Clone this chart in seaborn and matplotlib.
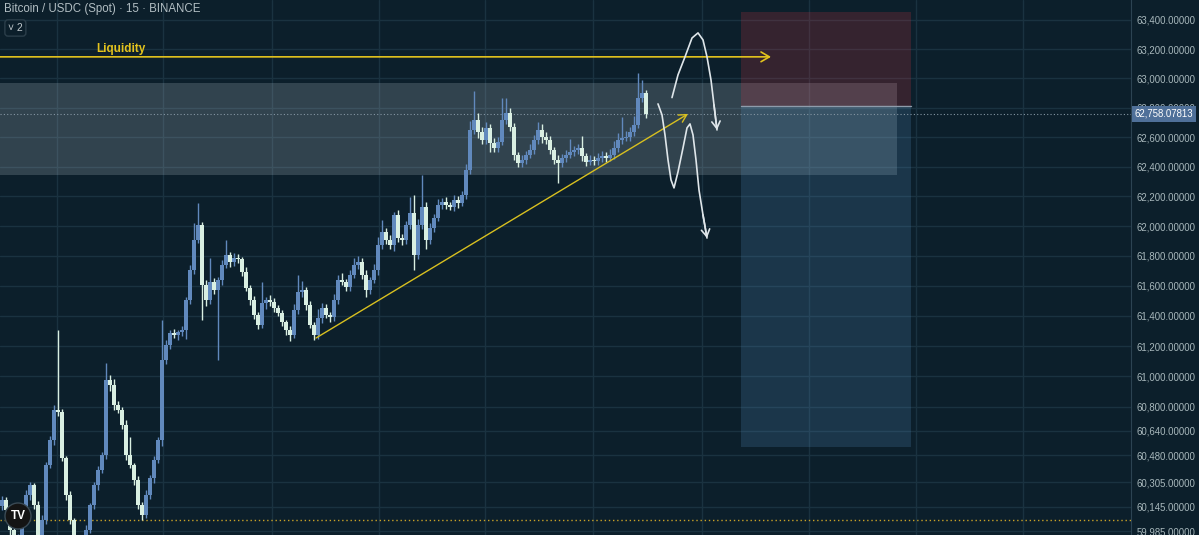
import numpy as np
import matplotlib
matplotlib.use('Agg')
import matplotlib.pyplot as plt
import matplotlib.transforms as mtransforms
from matplotlib.patches import Rectangle, Ellipse
from matplotlib.ticker import FixedLocator, NullLocator
import seaborn as sns

### chart text
title = 'Bitcoin / USDC (Spot) · 15 · BINANCE'
last_price = 62758.07813
last_label = '62,758.07813'
price_ticks = [63400, 63200, 63000, 62800, 62600, 62400, 62200, 62000, 61800, 61600,
               61400, 61200, 61000, 60800, 60640, 60480, 60305, 60145, 59985]
tick_labels = [f'{t:,.5f}' for t in price_ticks]
time_grid = [13.75, 40.25, 67.5, 94.25, 120.75, 147.75, 175, 201.75, 228.5, 255.25]

### 15m candles
closes = [
    60188, 60123, 59993, 59895, 59928, 60058, 60220, 60286, 60155, 59960,
    60058, 60417, 60580, 60778, 60764, 60462, 60220, 60058, 59895, 59876,
    59895, 59993, 60155, 60286, 60384, 60482, 60975, 60942, 60810, 60778,
    60679, 60482, 60417, 60318, 60155, 60090, 60220, 60331, 60449, 60580,
    61108, 61207, 61287, 61273, 61293, 61306, 61506, 61706, 61907, 62008,
    61606, 61506, 61626, 61573, 61639, 61740, 61807, 61760, 61787, 61780,
    61693, 61586, 61506, 61406, 61340, 61486, 61506, 61493, 61453, 61420,
    61360, 61306, 61273, 61439, 61559, 61573, 61473, 61340, 61273, 61386,
    61453, 61406, 61393, 61506, 61639, 61626, 61593, 61673, 61740, 61760,
    61673, 61573, 61639, 61706, 61874, 61961, 61907, 61874, 62075, 61920,
    61907, 62008, 62088, 61807, 62008, 62129, 61907, 61988, 62055, 62142,
    62163, 62142, 62129, 62176, 62155, 62209, 62378, 62649, 62717, 62636,
    62581, 62663, 62561, 62527, 62568, 62717, 62765, 62669, 62480, 62426,
    62446, 62480, 62514, 62581, 62649, 62602, 62581, 62514, 62446, 62426,
    62459, 62480, 62500, 62514, 62527, 62473, 62432, 62446, 62440, 62459,
    62473, 62459, 62480, 62527, 62581, 62595, 62602, 62636, 62683, 62867,
    62901, 62758.07813]
opens = [60150] + closes[:-1]
wick_up = [
    25, 18, 30, 12, 40, 22, 35, 20, 15, 28,
    30, 20, 25, 33, 528, 20, 15, 25, 10, 18,
    22, 30, 15, 20, 25, 18, 113, 30, 40, 25,
    20, 35, 118, 15, 25, 20, 30, 18, 25, 22,
    265, 30, 20, 25, 15, 30, 20, 35, 114, 147,
    20, 30, 160, 25, 18, 30, 100, 20, 35, 25,
    15, 30, 20, 25, 18, 140, 22, 30, 25, 18,
    20, 15, 25, 40, 114, 60, 20, 25, 18, 60,
    30, 25, 20, 40, 35, 50, 20, 30, 45, 40,
    25, 35, 20, 40, 50, 80, 25, 30, 20, 35,
    30, 25, 108, 121, 40, 215, 30, 35, 25, 40,
    25, 30, 20, 35, 25, 30, 40, 60, 195, 45,
    30, 40, 25, 35, 30, 150, 100, 30, 25, 20,
    30, 25, 40, 35, 51, 40, 30, 25, 20, 30,
    25, 30, 90, 25, 30, 83, 20, 30, 25, 35,
    30, 25, 40, 45, 50, 143, 40, 35, 60, 170,
    88, 20]
wick_dn = [
    30, 25, 40, 60, 35, 20, 28, 30, 25, 50,
    40, 25, 20, 30, 25, 20, 30, 25, 60, 50,
    40, 30, 20, 25, 30, 20, 25, 40, 30, 20,
    25, 30, 20, 30, 25, 32, 20, 25, 30, 20,
    40, 30, 25, 20, 30, 25, 60, 30, 25, 20,
    233, 40, 30, 25, 465, 30, 20, 35, 25, 30,
    30, 20, 35, 25, 30, 20, 40, 25, 30, 20,
    25, 30, 40, 20, 25, 30, 35, 20, 33, 25,
    30, 20, 35, 25, 30, 20, 25, 30, 20, 30,
    25, 47, 30, 20, 35, 25, 30, 25, 40, 30,
    35, 25, 30, 101, 30, 25, 60, 30, 25, 20,
    25, 30, 20, 25, 30, 20, 25, 30, 25, 40,
    30, 25, 60, 30, 25, 20, 30, 25, 35, 30,
    25, 30, 20, 25, 30, 40, 25, 30, 25, 136,
    30, 25, 20, 30, 25, 35, 30, 20, 25, 30,
    25, 30, 20, 25, 30, 25, 20, 30, 25, 20,
    30, 25]

### drawings
liquidity_price = 63147
liquidity_label_price = 63201
liquidity_x = [-0.5, 192.25]
trend_x = [78.5, 171.5]
trend_y = [61253, 62758]
dotted_low = 60058
zone_low, zone_high = 62344, 62969
zone_x = [-0.5, 223.75]
pos_x = [184.75, 227.25]
stop_price, entry_price, target_price = 63455, 62810, 60535
path_a_x = [167.5, 169, 170.75, 172.5, 174, 175.25, 176.25, 177.25, 178, 178.75]
path_a_y = [62869, 63024, 63147, 63276, 63311, 63263, 63147, 62989, 62819, 62649]
path_b_x = [164, 165, 165.75, 166.5, 167.25, 168, 169, 170.25, 171.25, 172, 172.75,
            173.5, 174.25, 175.25, 176.25]
path_b_y = [62826, 62751, 62615, 62446, 62311, 62257, 62365, 62527, 62663, 62690, 62615,
            62446, 62243, 62075, 61920]

bg = '#0c1f2b'
grid_c = '#1a3240'
up_c = '#6189bd'
dn_c = '#d9efe2'
yellow = '#e3c31d'

sns.set_style('dark', {'axes.facecolor': bg, 'figure.facecolor': bg,
                       'grid.color': grid_c, 'axes.edgecolor': '#2c4352'})
plt.rcParams['font.family'] = ['Liberation Sans', 'DejaVu Sans']

fig = plt.figure(figsize=(11.99, 5.35), dpi=100)
ax = fig.add_axes([0, 0, 1131 / 1199, 1])
ax.set_yscale('log')
ax.set_xlim(-0.5, 282.25)
ax.set_ylim(59960, 63537)

# grid / axis
ax.yaxis.set_major_locator(FixedLocator(price_ticks))
ax.yaxis.set_minor_locator(NullLocator())
ax.set_yticklabels(tick_labels)
ax.yaxis.tick_right()
ax.tick_params(axis='y', length=0, pad=4, labelsize=6.9, labelcolor='#a8b8bc')
ax.set_xticks(time_grid)
ax.tick_params(axis='x', length=0, labelbottom=False)
ax.grid(True, color=grid_c, lw=1)
for s in ['left', 'top', 'bottom']:
    ax.spines[s].set_visible(False)
ax.spines['right'].set_color('#2c4352')

# zones
ax.add_patch(Rectangle((zone_x[0], zone_low), zone_x[1] - zone_x[0], zone_high - zone_low,
                       fc='#c8d6dc', alpha=0.2, lw=0, zorder=2))
ax.add_patch(Rectangle((pos_x[0], entry_price), pos_x[1] - pos_x[0], stop_price - entry_price,
                       fc='#f23645', alpha=0.18, lw=0, zorder=2))
ax.add_patch(Rectangle((pos_x[0], target_price), pos_x[1] - pos_x[0], entry_price - target_price,
                       fc='#5996c8', alpha=0.2, lw=0, zorder=2))
ax.plot(pos_x, [entry_price, entry_price], color='#8e9cab', lw=1, zorder=2.5)

# candles
x = np.arange(len(closes))
o = np.array(opens, dtype=float)
c = np.array(closes, dtype=float)
hi = np.maximum(o, c) + np.array(wick_up)
lo = np.minimum(o, c) - np.array(wick_dn)
cols = np.where(c >= o, up_c, dn_c)
ax.vlines(x, lo, hi, colors=cols, lw=1, zorder=3)
ax.bar(x, np.maximum(np.abs(c - o), 5), bottom=np.minimum(o, c), width=0.78,
       color=cols, lw=0, zorder=3)

# dotted levels
ax.axhline(last_price, color='#8596a3', lw=0.8, ls=(0, (1, 2)), zorder=2.6)
ax.axhline(dotted_low, color='#c9a227', lw=1, ls=(0, (1, 2)), zorder=2.6)

# liquidity line + trendline
ax.annotate('', xy=(liquidity_x[1], liquidity_price), xytext=(liquidity_x[0], liquidity_price),
            arrowprops=dict(arrowstyle='->,head_length=0.6,head_width=0.35', color=yellow,
                            lw=1.2, shrinkA=0, shrinkB=0), zorder=4)
ax.text(23.5, liquidity_label_price, 'Liquidity', color=yellow, fontsize=8.5,
        fontweight='bold', va='center', ha='left', zorder=5)
ax.annotate('', xy=(trend_x[1], trend_y[1]), xytext=(trend_x[0], trend_y[0]),
            arrowprops=dict(arrowstyle='->,head_length=0.55,head_width=0.3', color='#d8c020',
                            lw=1, shrinkA=0, shrinkB=0), zorder=4)

# hand drawn paths
for px, py in [(path_a_x, path_a_y), (path_b_x, path_b_y)]:
    sns.lineplot(x=px, y=py, sort=False, estimator=None, color='#dfe6ea', lw=1.2,
                 ax=ax, zorder=5)
    ax.annotate('', xy=(px[-1], py[-1]), xytext=(px[-2], py[-2]),
                arrowprops=dict(arrowstyle='->,head_length=0.5,head_width=0.3',
                                color='#dfe6ea', lw=1.2, shrinkA=0, shrinkB=0), zorder=5)

# last price tag
trans = mtransforms.blended_transform_factory(ax.transAxes, ax.transData)
ax.text(1.003, last_price, last_label, transform=trans, ha='left', va='center',
        color='white', fontsize=6.9, clip_on=False, zorder=10,
        bbox=dict(boxstyle='square,pad=0.3', fc='#4f7099', ec='none'))

# header
fig.text(4 / 1199, 1 - 9 / 535, title, va='center', ha='left', color='#b2bec3', fontsize=8.3)
fig.text(8 / 1199, 1 - 28 / 535, '˅ 2', va='center', ha='left', color='#c0c8cc', fontsize=7.5,
         bbox=dict(boxstyle='round,pad=0.3', fc=bg, ec='#2b3e4a'))

# logo
fig.add_artist(Ellipse((18 / 1199, 19 / 535), 26 / 1199, 26 / 535, transform=fig.transFigure,
                       fc='#141414', ec='#3a4a55', lw=1, zorder=20))
fig.text(18 / 1199, 19 / 535, 'TV', ha='center', va='center', color='white',
         fontsize=8.5, fontweight='bold', zorder=21)

fig.savefig('out.png', dpi=100, facecolor=bg)
